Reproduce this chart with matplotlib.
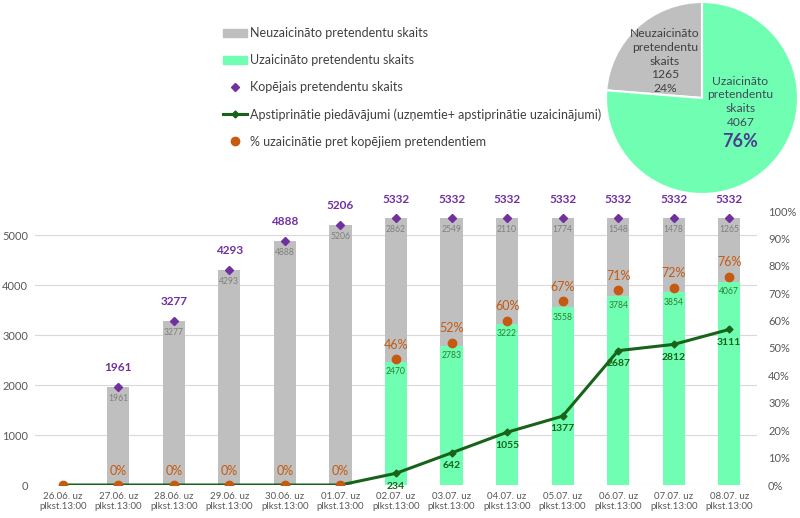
import numpy as np
import matplotlib
matplotlib.use("Agg")
import matplotlib.pyplot as plt
from matplotlib.patches import Patch
from matplotlib.lines import Line2D

plt.rcParams['font.family'] = ['Lato', 'DejaVu Sans']

dates = ["26.06.", "27.06.", "28.06.", "29.06.", "30.06.", "01.07.", "02.07.",
         "03.07.", "04.07.", "05.07.", "06.07.", "07.07.", "08.07."]
not_invited = [0, 1961, 3277, 4293, 4888, 5206, 2862, 2549, 2110, 1774, 1548, 1478, 1265]
invited = [0, 0, 0, 0, 0, 0, 2470, 2783, 3222, 3558, 3784, 3854, 4067]
total = [np.nan, 1961, 3277, 4293, 4888, 5206, 5332, 5332, 5332, 5332, 5332, 5332, 5332]
approved = [0, 0, 0, 0, 0, 0, 234, 642, 1055, 1377, 2687, 2812, 3111]
pct = [0, 0, 0, 0, 0, 0, 46, 52, 60, 67, 71, 72, 76]

pie_labels = ["Neuzaicināto\npretendentu\nskaits", "Uzaicināto\npretendentu\nskaits"]
pie_values = [1265, 4067]

GRAY = "#BFBFBF"
GREEN = "#70FFB2"
PURPLE = "#7030A0"
DKGREEN = "#17631A"
ORANGE = "#C55A11"
TXT = "#595959"

fig = plt.figure(figsize=(8, 5.18), dpi=100)
ax = fig.add_axes([35 / 800, 33 / 518, 722 / 800, 274 / 518])
ax2 = ax.twinx()

x = np.arange(len(dates))
w = 0.4
ax.bar(x, invited, w, color=GREEN, zorder=2)
ax.bar(x, not_invited, w, bottom=invited, color=GRAY, zorder=2)
ax.plot(x, total, ls="none", marker="D", ms=4, color=PURPLE, zorder=4)
ax.plot(x, approved, color=DKGREEN, lw=2.2, marker="D", ms=3.5, zorder=3)
ax2.plot(x, np.array(pct) / 100, ls="none", marker="o", ms=6, color=ORANGE, zorder=5)

ax.set_ylim(0, 5480)
ax2.set_ylim(0, 1.0)
ax.set_xlim(-0.5, len(dates) - 0.5)
ax.set_yticks(range(0, 5001, 1000))
ax2.set_yticks(np.linspace(0, 1, 11))
ax2.set_yticklabels([f"{int(round(v * 100))}%" for v in np.linspace(0, 1, 11)])
ax.grid(axis="y", color="#D9D9D9", lw=0.8, zorder=0)
ax.set_axisbelow(True)
ax.set_xticks(x)
ax.set_xticklabels([d + " uz\nplkst.13:00" for d in dates], color=TXT)
for a in (ax, ax2):
    for s in a.spines.values():
        s.set_visible(False)
    a.tick_params(length=0, labelsize=8, labelcolor=TXT)
ax.tick_params(axis="y", pad=5)
ax.tick_params(axis="x", pad=5, labelsize=7)
ax2.tick_params(axis="y", pad=8)

for i in x:
    if not np.isnan(total[i]):
        ax.annotate(f"{int(total[i])}", (i, total[i]), xytext=(0, 10), textcoords="offset points",
                    ha="center", va="bottom", color=PURPLE, fontsize=8.5, fontweight="bold")
        ax.annotate(f"{not_invited[i]}", (i, total[i]), xytext=(0, -5), textcoords="offset points",
                    ha="center", va="top", color="#7F7F7F", fontsize=6.2)
        ax2.annotate(f"{pct[i]}%", (i, pct[i] / 100), xytext=(0, 6), textcoords="offset points",
                     ha="center", va="bottom", color=ORANGE, fontsize=9)
    if invited[i] > 0:
        ax.annotate(f"{invited[i]}", (i, invited[i]), xytext=(0, -4), textcoords="offset points",
                    ha="center", va="top", color="#2E7D32", fontsize=6.2)
    if approved[i] > 0:
        ax.annotate(f"{approved[i]}", (i, approved[i]), xytext=(0, -6), textcoords="offset points",
                    ha="center", va="top", color=DKGREEN, fontsize=7.5, fontweight="bold")

handles = [
    Patch(color=GRAY),
    Patch(color=GREEN),
    Line2D([], [], ls="none", marker="D", ms=4, color=PURPLE),
    Line2D([], [], color=DKGREEN, lw=2.2, marker="D", ms=3.5),
    Line2D([], [], ls="none", marker="o", ms=6, color=ORANGE),
]
labels = ["Neuzaicināto pretendentu skaits", "Uzaicināto pretendentu skaits",
          "Kopējais pretendentu skaits",
          "Apstiprinātie piedāvājumi (uzņemtie+ apstiprinātie uzaicinājumi)",
          "% uzaicinātie pret kopējiem pretendentiem"]
leg = fig.legend(handles, labels, loc="upper left", bbox_to_anchor=(218 / 800, 1 - 22 / 518),
                 frameon=False, fontsize=9, labelcolor="#404040", handlelength=1.95,
                 handleheight=0.6, handletextpad=0.2, labelspacing=1.2, borderaxespad=0)

pax = fig.add_axes([606 / 800, (518 - 194) / 518, 192 / 800, 192 / 518])
pax.pie(pie_values, colors=[GRAY, GREEN], startangle=90, counterclock=True,
        wedgeprops=dict(edgecolor="white", linewidth=1.5))
pax.set_xlim(-1, 1)
pax.set_ylim(-1, 1)
pct_pie = [round(v / sum(pie_values) * 100) for v in pie_values]
pax.text(-0.385, 0.385, f"{pie_labels[0]}\n{pie_values[0]}\n{pct_pie[0]}%", ha="center", va="center",
         fontsize=8.7, color="#404040", linespacing=1.3)
pax.text(0.40, -0.04, f"{pie_labels[1]}\n{pie_values[1]}", ha="center", va="center",
         fontsize=8.7, color="#3F4A5A", linespacing=1.3)
pax.text(0.40, -0.45, f"{pct_pie[1]}%", ha="center", va="center",
         fontsize=13, fontweight="bold", color="#4A3F8F")

fig.savefig("out.png", dpi=100)
